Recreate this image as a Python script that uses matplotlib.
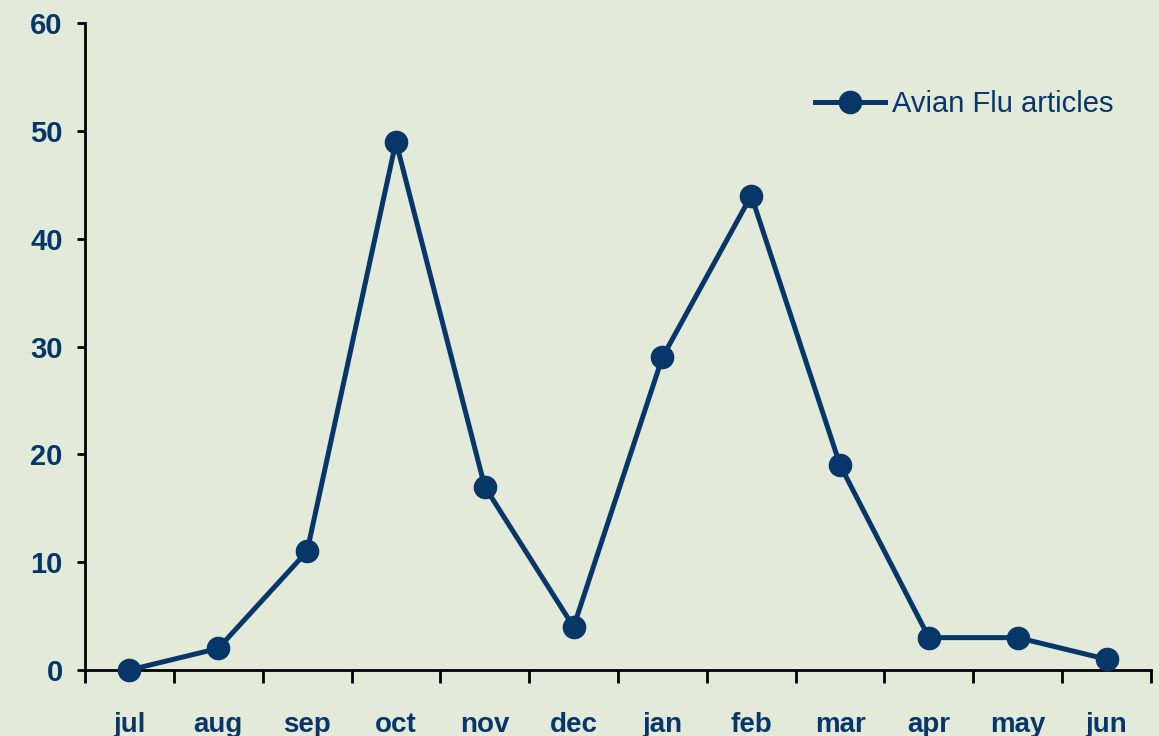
import matplotlib
matplotlib.use("Agg")
import matplotlib.pyplot as plt

months = ["jul", "aug", "sep", "oct", "nov", "dec", "jan", "feb", "mar", "apr", "may", "jun"]
articles = [0, 2, 11, 49, 17, 4, 29, 44, 19, 3, 3, 1]
series_label = "Avian Flu articles"
yticks = [0, 10, 20, 30, 40, 50, 60]

navy = "#073669"
bg = "#E4EAD9"
fam = ["Liberation Sans Narrow", "Liberation Sans", "DejaVu Sans"]

fig = plt.figure(figsize=(11.59, 7.36), dpi=100, facecolor=bg)
ax = fig.add_axes([85/1159, 1-670/736, (1151-85)/1159, (670-23)/736])
ax.set_facecolor(bg)

x = list(range(len(months)))
ax.plot(x, articles, color=navy, lw=3.6, marker="o", markersize=16,
        markerfacecolor=navy, markeredgecolor=navy, label=series_label,
        clip_on=False, zorder=3)

ax.set_xlim(-0.5, len(months) - 0.5)
ax.set_ylim(0, 60)
ax.set_yticks(yticks)
ax.set_yticklabels([str(v) for v in yticks], fontfamily=fam, fontweight="bold",
                   fontsize=21, color=navy)
ax.set_xticks(x)
ax.set_xticklabels(months, fontfamily=fam, fontweight="bold", fontsize=20, color=navy)
ax.set_xticks([i - 0.5 for i in range(len(months) + 1)], minor=True)

for s in ["top", "right"]:
    ax.spines[s].set_visible(False)
for s in ["left", "bottom"]:
    ax.spines[s].set_linewidth(2)
    ax.spines[s].set_color("black")

ax.tick_params(axis="y", direction="out", length=6, width=2, color="black", pad=10)
ax.tick_params(axis="x", which="major", length=0, pad=30)
ax.tick_params(axis="x", which="minor", direction="out", length=9, width=2, color="black")

leg = ax.legend(loc="center left", bbox_to_anchor=(815/1159, 1-104/736),
                bbox_transform=fig.transFigure, frameon=False,
                prop={"family": fam, "size": 21}, handlelength=2.4,
                handletextpad=0.25, labelcolor=navy, markerscale=1.0,
                borderpad=0, borderaxespad=0)

fig.savefig("out.png", dpi=100, facecolor=bg)
